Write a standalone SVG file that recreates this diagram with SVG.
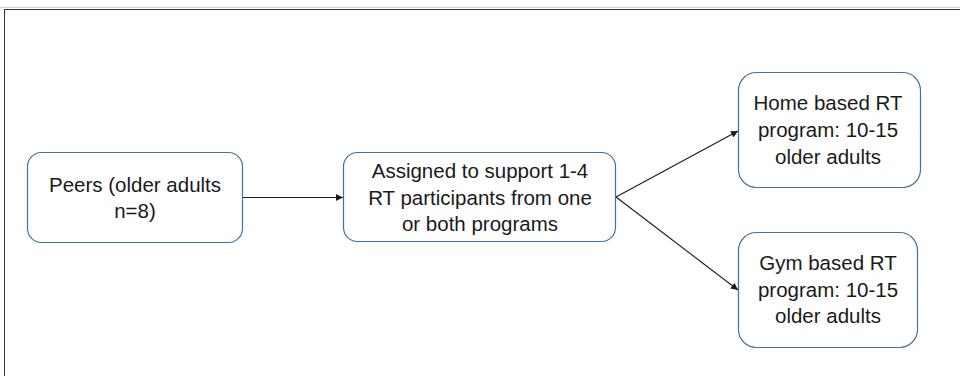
<svg xmlns="http://www.w3.org/2000/svg" width="960" height="376" viewBox="0 0 960 376">
<style>
.box{fill:#ffffff;stroke:#41719c;stroke-width:1.2}
.t{font-family:"Liberation Sans",Arial,sans-serif;font-size:20.5px;fill:#1a1a1a;text-anchor:middle}
.c{stroke:#1a1a1a;stroke-width:1.1;fill:none;marker-end:url(#ah)}
</style>
<defs>
<marker id="ah" viewBox="0 0 10 10" refX="10" refY="5" markerWidth="9" markerHeight="7" markerUnits="userSpaceOnUse" orient="auto">
<path d="M0,0 L10,5 L0,10 z" fill="#1a1a1a"/>
</marker>
</defs>
<rect x="0" y="0" width="960" height="376" fill="#ffffff"/>
<line x1="0" y1="7.5" x2="960" y2="7.5" stroke="#d0d0d0" stroke-width="1"/>
<rect x="4.5" y="9.5" width="1000" height="400" fill="none" stroke="#333333" stroke-width="1"/>
<g id="connectors">
<line class="c" x1="243" y1="197.5" x2="343" y2="197.5"/>
<line class="c" x1="616" y1="197" x2="738" y2="131"/>
<line class="c" x1="616" y1="197" x2="738" y2="290"/>
</g>
<g id="peers">
<rect class="box" x="27.5" y="152.5" width="215" height="90" rx="14"/>
<text class="t" x="135" y="192">Peers (older adults</text>
<text class="t" x="135" y="218">n=8)</text>
</g>
<g id="assigned">
<rect class="box" x="343.5" y="152.5" width="272" height="89" rx="14"/>
<text class="t" x="480" y="178">Assigned to support 1-4</text>
<text class="t" x="480" y="204.5">RT participants from one</text>
<text class="t" x="480" y="231">or both programs</text>
</g>
<g id="home">
<rect class="box" x="738.5" y="72.5" width="182" height="115" rx="18"/>
<text class="t" x="828" y="110">Home based RT</text>
<text class="t" x="828" y="137">program: 10-15</text>
<text class="t" x="828" y="164">older adults</text>
</g>
<g id="gym">
<rect class="box" x="738.5" y="232.5" width="179" height="115" rx="18"/>
<text class="t" x="828" y="270">Gym based RT</text>
<text class="t" x="828" y="297">program: 10-15</text>
<text class="t" x="828" y="323">older adults</text>
</g>
</svg>
